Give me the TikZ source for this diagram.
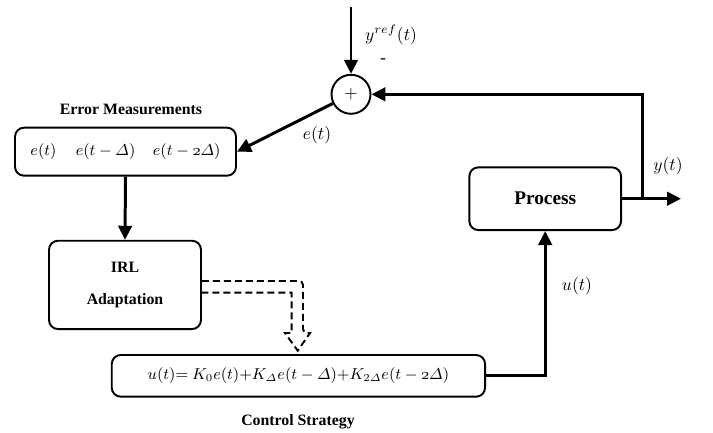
\documentclass[tikz,border=0pt]{standalone}
\usepackage{amsmath}
\usepackage[no-math]{fontspec}
\setmainfont{Liberation Serif}
\usetikzlibrary{arrows.meta}

\begin{document}
\begin{tikzpicture}[
        block/.style={draw, line width=1.1pt, rounded corners=0.18cm, inner sep=0pt},
        wire/.style={line width=1.7pt},
        arr/.style={wire, -{Triangle[length=2.8mm,width=2.7mm]}},
        title/.style={font=\fontsize{9}{11}\selectfont\bfseries},
        small/.style={font=\fontsize{9}{11}\selectfont}
    ]
    \useasboundingbox (0,0) rectangle (14.26,-8.66);
    \node[draw, circle, line width=1.1pt, minimum size=0.78cm, inner sep=0pt] (sum) at (7.02,-1.886) {$+$};
    \coordinate (ref) at (7.02,-0.14);
    \node (yref) at (7.82,-0.7) {$y^{ref}(t)$};
    \node (minus) at (7.66,-1.22) {-};
    \node[block, small, minimum width=4.42cm, minimum height=0.96cm] (err) at (2.51,-3.034)
        {$e(t)$\hspace{11pt}$e(t-\varDelta)$\hspace{10pt}$e(t-\mathnormal{2}\varDelta)$\hspace{0.24cm}};
    \node[title] (errtitle) at (2.62,-2.18) {Error Measurements};
    \node (e) at (6.34,-2.7) {$e(t)$};
    \node[block, minimum width=3.04cm, minimum height=1.766cm, align=center,
        font=\fontsize{9}{18.3}\selectfont\bfseries] (irl) at (2.5,-5.698) {IRL\\Adaptation};
    \node[block, small, minimum width=7.466cm, minimum height=0.834cm] (ctrl) at (5.968,-7.517)
        {$u(t){=}\ K_0e(t){+}K_{\varDelta}e(t-\varDelta){+}K_{2\varDelta}e(t-\mathnormal{2}\varDelta)$};
    \node[title] (ctrltitle) at (5.96,-8.434) {Control Strategy};
    \node[block, minimum width=3.034cm, minimum height=1.254cm,
        font=\fontsize{11}{13}\selectfont\bfseries] (proc) at (10.904,-3.974) {Process};
    \node (u) at (11.54,-5.72) {$u(t)$};
    \node (y) at (13.36,-3.314) {$y(t)$};
    \coordinate (tap) at (12.84,-3.974);
    \coordinate (out) at (13.62,-3.974);
    % signal lines
    \draw[arr] (ref) -- (sum.north);
    \draw[arr] (sum) -- (err.east);
    \draw[arr] (err.south) -- (irl.north);
    \draw[arr] (ctrl.east) -| (proc.south);
    \draw[arr] (proc.east) -- (out);
    \draw[arr] (tap) |- (sum.east);
    % adaptation arrow
    \draw[line width=1.1pt, dash pattern=on 0.14cm off 0.08cm]
        (irl.east |- 0,-5.62) -- (5.96,-5.62) [rounded corners=0.08cm] -- (6.06,-5.62) -- (6.06,-6.66)
        [sharp corners] -- (6.20,-6.66) -- (5.954,-7.014) -- (5.70,-6.66) -- (5.834,-6.66)
        -- (5.834,-5.854) -- (irl.east |- 0,-5.854);
\end{tikzpicture}
\end{document}
